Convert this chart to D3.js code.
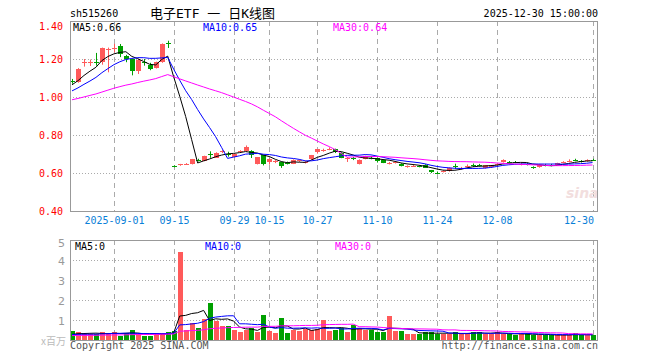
<!DOCTYPE html>
<html><head><meta charset="utf-8">
<script src="https://cdn.jsdelivr.net/npm/d3@7"></script>
<style>
body{margin:0;background:#fff}
svg{display:block}
text{font-family:"DejaVu Sans Mono",monospace;font-size:10px}
</style>
</head><body>
<svg id="c" width="660" height="360"></svg>
<script>
// ---------- data ----------
const dates = [
 "08-21","08-22","08-25","08-26","08-27","08-28","08-29",
 "09-01","09-02","09-03","09-04","09-05","09-08","09-09","09-10","09-11","09-12",
 "09-15","09-16","09-17","09-18","09-19","09-22","09-23","09-24","09-25","09-26","09-29","09-30",
 "10-09","10-10","10-13","10-14","10-15","10-16","10-17","10-20","10-21","10-22","10-23","10-24",
 "10-27","10-28","10-29","10-30","10-31",
 "11-03","11-04","11-05","11-06","11-07","11-10","11-11","11-12","11-13","11-14","11-17","11-18",
 "11-19","11-20","11-21","11-24","11-25","11-26","11-27","11-28",
 "12-01","12-02","12-03","12-04","12-05","12-08","12-09","12-10","12-11","12-12","12-15","12-16",
 "12-17","12-18","12-19","12-22","12-23","12-24","12-25","12-26","12-29","12-30"
];
const opens = [
 1.085,1.079,1.182,1.180,1.186,1.182,1.250,1.252,1.267,1.217,1.200,1.135,1.186,1.170,1.153,1.184,1.283,
 0.637,0.642,0.645,0.647,0.668,0.665,0.698,0.682,0.712,0.702,0.686,0.712,0.714,0.714,0.647,0.693,0.658,
 0.659,0.658,0.654,0.649,0.663,0.656,0.670,0.707,0.717,0.724,0.724,0.707,0.677,0.677,0.649,0.675,0.681,
 0.679,0.670,0.650,0.654,0.649,0.633,0.636,0.637,0.644,0.614,0.602,0.607,0.609,0.637,0.624,0.636,0.640,
 0.643,0.626,0.630,0.645,0.658,0.660,0.660,0.643,0.648,0.632,0.630,0.642,0.642,0.640,0.655,0.658,0.671,
 0.663,0.663,0.667
];
const closes = [
 1.081,1.149,1.186,1.184,1.182,1.258,1.255,1.256,1.223,1.200,1.135,1.193,1.182,1.150,1.184,1.280,1.279,
 0.634,0.645,0.648,0.672,0.665,0.689,0.695,0.707,0.715,0.699,0.700,0.715,0.735,0.693,0.682,0.647,0.675,
 0.662,0.635,0.651,0.670,0.666,0.659,0.693,0.724,0.720,0.727,0.710,0.682,0.680,0.674,0.670,0.689,0.678,
 0.661,0.656,0.653,0.657,0.638,0.636,0.639,0.634,0.630,0.603,0.599,0.610,0.626,0.634,0.627,0.639,0.637,
 0.640,0.640,0.640,0.648,0.670,0.657,0.657,0.647,0.645,0.629,0.640,0.639,0.639,0.652,0.658,0.662,0.668,
 0.660,0.666,0.665
];
const highs = [
 1.095,1.152,1.200,1.197,1.232,1.260,1.260,1.280,1.279,1.222,1.200,1.200,1.200,1.180,1.186,1.282,1.296,
 0.640,0.648,0.652,0.674,0.675,0.691,0.714,0.709,0.720,0.712,0.702,0.720,0.745,0.720,0.684,0.696,0.677,
 0.668,0.660,0.660,0.672,0.672,0.665,0.695,0.726,0.728,0.735,0.728,0.709,0.684,0.685,0.672,0.691,0.690,
 0.681,0.672,0.658,0.662,0.651,0.640,0.644,0.640,0.646,0.616,0.608,0.614,0.628,0.649,0.632,0.645,0.650,
 0.648,0.642,0.642,0.652,0.672,0.663,0.663,0.652,0.652,0.635,0.642,0.648,0.648,0.654,0.662,0.672,0.675,
 0.668,0.672,0.675
];
const lows = [
 1.070,1.075,1.160,1.163,1.165,1.170,1.130,1.235,1.210,1.183,1.114,1.121,1.165,1.141,1.150,1.180,1.258,
 0.630,0.638,0.642,0.645,0.661,0.662,0.680,0.680,0.705,0.686,0.684,0.705,0.712,0.679,0.645,0.640,0.644,
 0.652,0.627,0.645,0.647,0.658,0.650,0.668,0.702,0.712,0.720,0.705,0.678,0.658,0.668,0.645,0.672,0.672,
 0.655,0.652,0.645,0.650,0.635,0.628,0.632,0.630,0.627,0.600,0.595,0.603,0.607,0.622,0.620,0.632,0.632,
 0.636,0.624,0.628,0.640,0.655,0.652,0.652,0.640,0.640,0.622,0.628,0.635,0.635,0.638,0.652,0.656,0.662,
 0.655,0.660,0.664
];
// closes before the visible window (only feed the moving averages)
const prevCloses = [
 0.94,0.95,0.94,0.95,0.96,0.95,0.96,0.97,0.96,0.95,0.96,0.97,0.96,0.97,0.96,0.97,
 0.97,0.98,0.98,0.99, 0.99,1.00,1.01,0.99,1.01, 1.04,1.05,1.07,1.08
];
const volumes = [
 0.47,0.40,0.28,0.28,0.28,0.40,0.33,0.40,0.22,0.33,0.50,0.28,0.22,0.22,0.33,0.37,0.40,
 0.47,4.42,0.50,0.83,0.60,1.05,1.87,0.95,0.70,0.70,0.50,0.40,0.50,0.60,0.40,1.25,0.47,
 0.33,1.10,0.35,0.50,0.47,0.57,0.50,0.55,1.00,0.47,0.50,0.58,0.38,0.75,0.58,0.50,0.50,
 0.38,0.40,1.20,0.45,0.45,0.30,0.30,0.30,0.40,0.40,0.30,0.30,0.30,0.40,0.30,0.30,0.40,
 0.40,0.30,0.30,0.40,0.30,0.30,0.25,0.30,0.35,0.25,0.25,0.25,0.25,0.25,0.25,0.25,0.35,
 0.25,0.25,0.25
];
const prevVolumes = [
 0.18,0.20,0.22,0.17,0.19,0.21,0.20,0.18,0.19,0.22,0.20,0.17,0.19,0.21,0.20,0.18,0.20,0.19,0.21,0.19,
 0.25,0.27,0.26,0.28,0.24, 0.22,0.24,0.23,0.24
];
const maPeriods = [5, 10, 30];
const maNames = ["MA5", "MA10", "MA30"];
const maPriceLabels = ["0.66", "0.65", "0.64"];
const maVolLabels = ["0", "0", "0"];
const priceTicks = [1.40, 1.20, 1.00, 0.80, 0.60, 0.40];
const volTicks = [1, 2, 3, 4, 5];
const tickDates = ["09-01","09-15","09-29","10-15","10-27","11-10","11-24","12-08","12-30"];
const tickLabels = ["2025-09-01","09-15","09-29","10-15","10-27","11-10","11-24","12-08","12-30"];
const code = "sh515260";
const title = "电子ETF 一 日K线图";
const stamp = "2025-12-30 15:00:00";

// ---------- layout ----------
const svg = d3.select("#c");
const L = 70, R = 597;
const pTop = 21, pBot = 211;
const vTop = 240, vBot = 340;
const RED = "#ff5a5a", GREEN = "#00a000";
const maColors = ["#000000", "#0000ff", "#ff00ff"];
const GRID = "#aaaaaa";

const x = d3.scalePoint().domain(dates).range([72, 592.5]);
const y = d3.scaleLinear().domain([0.40, 1.40]).range([pBot, pTop]);
const yv = d3.scaleLinear().domain([0, 5]).range([vBot, vTop]);
const px = d => Math.round(x(d));

function movingAvg(prev, vals, n) {
  const all = prev.concat(vals), off = prev.length;
  return vals.map((_, i) => {
    const k = i + off;
    const s = all.slice(Math.max(0, k - n + 1), k + 1);
    return d3.mean(s);
  });
}

const candles = dates.map((d, i) => ({d, o: opens[i], c: closes[i], h: highs[i], l: lows[i], v: volumes[i]}));
const up = k => k.c >= k.o;

// ---------- header ----------
svg.append("text").attr("x", 70).attr("y", 17).text(code);
svg.append("text").attr("x", 150).attr("y", 18)
  .style("font-family", "'DejaVu Sans Mono','Noto Sans CJK SC',monospace").style("font-size", "13px")
  .text(title);
svg.append("text").attr("x", 598).attr("y", 17).attr("text-anchor", "end").text(stamp);

// ---------- grids ----------
function grid(g, top, bot, yScale, hVals) {
  g.selectAll(".vg").data(tickDates).join("line")
    .attr("x1", d => px(d) + 0.5).attr("x2", d => px(d) + 0.5)
    .attr("y1", top).attr("y2", bot)
    .attr("stroke", GRID).attr("stroke-dasharray", "5,4");
  g.selectAll(".hg").data(hVals).join("line")
    .attr("x1", L).attr("x2", R)
    .attr("y1", d => Math.round(yScale(d)) + 0.5).attr("y2", d => Math.round(yScale(d)) + 0.5)
    .attr("stroke", GRID).attr("stroke-dasharray", "1,2");
}
const gp = svg.append("g");
grid(gp, pTop, pBot, y, [1.20, 1.00, 0.80, 0.60]);
const gv = svg.append("g");
grid(gv, vTop, vBot, yv, [1, 2, 3, 4]);

// watermark
svg.append("text").attr("x", 566).attr("y", 198)
  .style("font-family", "'DejaVu Sans',sans-serif").style("font-size", "14px")
  .style("font-style", "italic").style("font-weight", "bold")
  .attr("fill", "#f2dede").text("sina");

// ---------- candles ----------
const gc = svg.append("g");
gc.selectAll(".w").data(candles).join("line")
  .attr("x1", k => px(k.d) + 0.5).attr("x2", k => px(k.d) + 0.5)
  .attr("y1", k => y(k.h)).attr("y2", k => y(k.l))
  .attr("stroke", k => up(k) ? RED : GREEN);
gc.selectAll(".b").data(candles).join("rect")
  .attr("x", k => px(k.d) - 2).attr("width", 5)
  .attr("y", k => Math.round(y(Math.max(k.o, k.c))))
  .attr("height", k => Math.max(1, Math.round(Math.abs(y(k.o) - y(k.c)))))
  .attr("fill", k => up(k) ? RED : GREEN);

// price MAs
maPeriods.forEach((n, j) => {
  const m = movingAvg(prevCloses, closes, n);
  svg.append("path")
    .attr("d", d3.line().x((_, i) => x(dates[i])).y(v => y(v))(m))
    .attr("fill", "none").attr("stroke", maColors[j]).attr("stroke-width", 1);
});

// ---------- volume ----------
const gvb = svg.append("g");
gvb.selectAll("rect").data(candles).join("rect")
  .attr("x", k => px(k.d) - 2).attr("width", 5)
  .attr("y", k => Math.round(yv(k.v)))
  .attr("height", k => vBot - Math.round(yv(k.v)))
  .attr("fill", k => up(k) ? RED : GREEN);
maPeriods.forEach((n, j) => {
  const m = movingAvg(prevVolumes, volumes, n);
  svg.append("path")
    .attr("d", d3.line().x((_, i) => x(dates[i])).y(v => yv(v))(m))
    .attr("fill", "none").attr("stroke", maColors[j]).attr("stroke-width", 1);
});

// ---------- frames ----------
[[pTop, pBot], [vTop, vBot]].forEach(([t, b]) => {
  svg.append("rect").attr("x", L + 0.5).attr("y", t + 0.5)
    .attr("width", R - L).attr("height", b - t)
    .attr("fill", "none").attr("stroke", "#999");
});

// ---------- axes labels ----------
svg.selectAll(".pl").data(priceTicks).join("text")
  .attr("x", 63).attr("y", d => d === 1.40 ? y(d) + 9 : y(d) + 4)
  .attr("text-anchor", "end").attr("fill", "#ff0000")
  .text(d => d.toFixed(2));
svg.selectAll(".vl").data(volTicks).join("text")
  .attr("x", 65).attr("y", d => d === 5 ? yv(d) + 7 : yv(d) + 5)
  .attr("text-anchor", "end").attr("fill", "#999")
  .style("font-family", "'DejaVu Sans',sans-serif").style("font-size", "11px")
  .text(d => d);
svg.append("text").attr("x", 66).attr("y", 345).attr("text-anchor", "end")
  .attr("fill", "#bbb").style("font-family", "'Noto Sans CJK SC',sans-serif").style("font-size", "10px")
  .text("x百万");
const lastTick = tickDates[tickDates.length - 1];
svg.selectAll(".xl").data(tickDates).join("text")
  .attr("x", d => d === lastTick ? px(d) + 1 : px(d) + 0.5).attr("y", 224)
  .attr("text-anchor", d => d === lastTick ? "end" : "middle")
  .attr("fill", "#0a80d8")
  .text((d, i) => tickLabels[i]);

// MA legends
const legX = [73, 203, 333];
maNames.forEach((nm, j) => {
  svg.append("text").attr("x", legX[j]).attr("y", 31).attr("fill", maColors[j])
    .text(nm + ":" + maPriceLabels[j]);
  svg.append("text").attr("x", legX[j] + 2).attr("y", 250).attr("fill", maColors[j])
    .text(nm + ":" + maVolLabels[j]);
});

// footer
svg.append("text").attr("x", 70).attr("y", 349).attr("fill", "#555").text("Copyright 2025 SINA.COM");
svg.append("text").attr("x", 598).attr("y", 349).attr("text-anchor", "end").attr("fill", "#555").text("http://finance.sina.com.cn");
</script>
</body></html>
